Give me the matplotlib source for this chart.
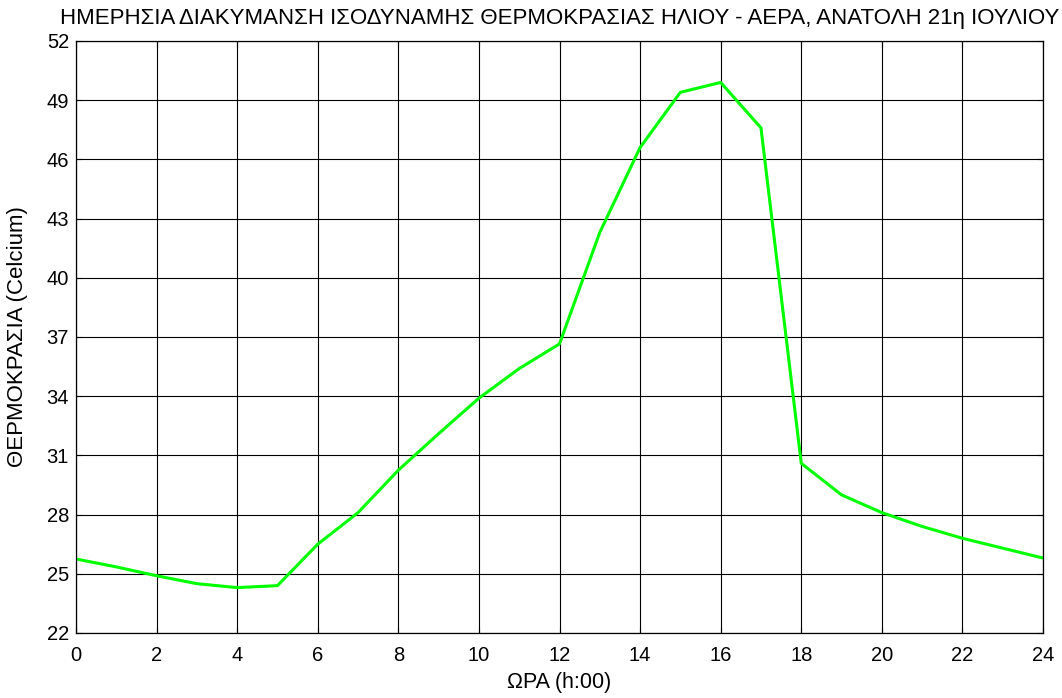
import matplotlib
matplotlib.use("Agg")
import matplotlib.pyplot as plt

plt.rcParams['font.family'] = ['Liberation Sans', 'DejaVu Sans']

hours = list(range(0, 25))
temps = [25.75, 25.35, 24.9, 24.5, 24.3, 24.4, 26.5, 28.1, 30.25, 32.1, 33.9, 35.4,
         36.65, 42.3, 46.6, 49.4, 49.9, 47.6, 30.6, 29.0, 28.1, 27.4, 26.8, 26.3, 25.8]
xticks = list(range(0, 25, 2))
yticks = list(range(22, 53, 3))

title = "ΗΜΕΡΗΣΙΑ ΔΙΑΚΥΜΑΝΣΗ ΙΣΟΔΥΝΑΜΗΣ ΘΕΡΜΟΚΡΑΣΙΑΣ ΗΛΙΟΥ - ΑΕΡΑ, ΑΝΑΤΟΛΗ 21η ΙΟΥΛΙΟΥ"
xlabel = "ΩΡΑ (h:00)"
ylabel = "ΘΕΡΜΟΚΡΑΣΙΑ (Celcium)"

fig = plt.figure(figsize=(10.62, 6.98), dpi=100)
ax = fig.add_axes([76/1062, 65/698, 967/1062, 592/698])
ax.plot(hours, temps, color=(0, 1, 0), linewidth=2.2)
ax.set_xlim(0, 24)
ax.set_ylim(22, 52)
ax.set_xticks(xticks)
ax.set_yticks(yticks)
ax.grid(True, color='black', linewidth=0.8, linestyle='-')
ax.tick_params(direction='in', top=True, right=True, length=4, labelsize=14.5, width=0.8)
ax.tick_params(axis='x', pad=9.5)
ax.tick_params(axis='y', pad=5)
for s in ax.spines.values():
    s.set_linewidth(0.9)
ax.set_title(title, fontsize=16, pad=12)
ax.set_xlabel(xlabel, fontsize=15.5, labelpad=5)
ax.set_ylabel(ylabel, fontsize=16, labelpad=13)
fig.savefig("out.png", dpi=100)
